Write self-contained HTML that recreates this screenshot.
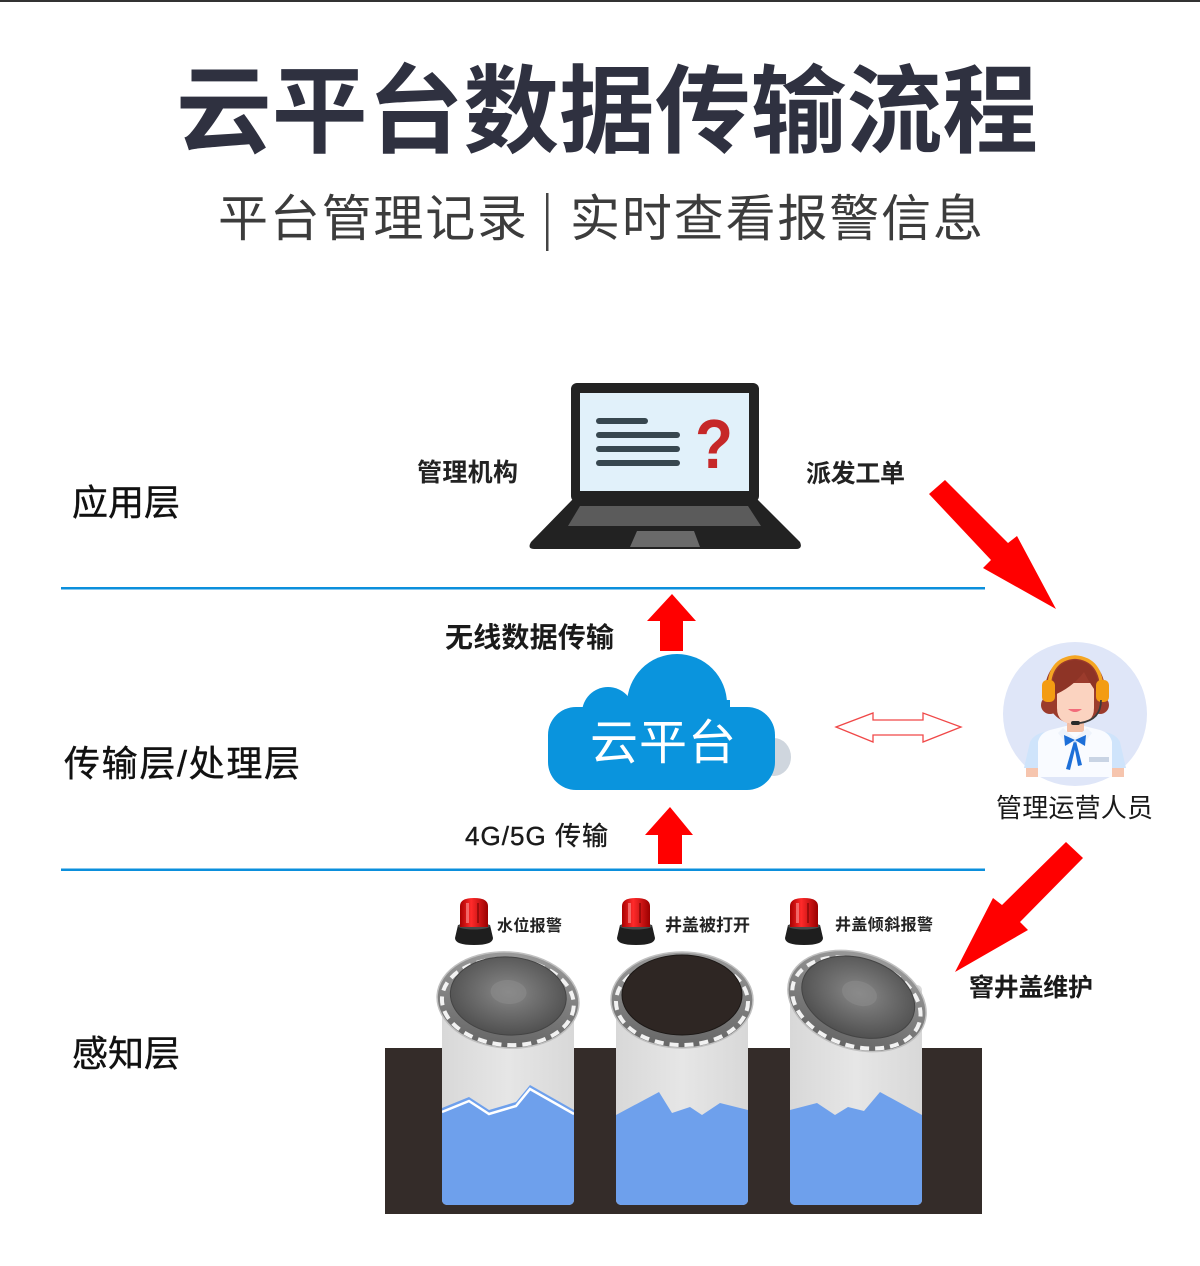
<!DOCTYPE html>
<html><head><meta charset="utf-8">
<style>
html,body{margin:0;padding:0;background:#fff;}
svg{display:block;}
text{font-family:"Liberation Sans","Noto Sans CJK SC",sans-serif;}
</style></head><body>
<svg width="1200" height="1266" viewBox="0 0 1200 1266" xmlns="http://www.w3.org/2000/svg">
<defs>
 <radialGradient id="disc" cx="50%" cy="45%" r="55%">
  <stop offset="0" stop-color="#8a8a8a"/>
  <stop offset="0.4" stop-color="#727272"/>
  <stop offset="1" stop-color="#505050"/>
 </radialGradient>
 <linearGradient id="ring" x1="0" y1="0" x2="0" y2="1">
  <stop offset="0" stop-color="#9a9a9a"/>
  <stop offset="1" stop-color="#666666"/>
 </linearGradient>
 <linearGradient id="cyl" x1="0" y1="0" x2="1" y2="0">
  <stop offset="0" stop-color="#d8d8d8"/>
  <stop offset="0.5" stop-color="#e6e6e6"/>
  <stop offset="1" stop-color="#d8d8d8"/>
 </linearGradient>
 <linearGradient id="dome" x1="0" y1="0" x2="1" y2="0">
  <stop offset="0" stop-color="#a80000"/>
  <stop offset="0.4" stop-color="#ff2a2a"/>
  <stop offset="1" stop-color="#9a0000"/>
 </linearGradient>
 <clipPath id="c1"><rect x="442" y="985" width="132" height="220" rx="5"/></clipPath>
 <clipPath id="c2"><rect x="616" y="985" width="132" height="220" rx="5"/></clipPath>
 <clipPath id="c3"><rect x="790" y="985" width="132" height="220" rx="5"/></clipPath>
 <clipPath id="avatar"><path d="M1003,714 A72,72 0 1 1 1147,714 A72,72 0 0 1 1130,760 L1130,777 L1020,777 L1020,760 A72,72 0 0 1 1003,714 Z"/></clipPath>
 <g id="alarm">
   <path d="M-16,-3 L16,-3 L19,10 Q19,17 0,17 Q-19,17 -19,10 Z" fill="#1e1e1e"/>
   <ellipse cx="0" cy="-2" rx="16" ry="3.5" fill="#4a4a4a"/>
   <path d="M-14,-1 L-14,-22 Q-14,-30 0,-30 Q14,-30 14,-22 L14,-1 Z" fill="url(#dome)"/>
   <rect x="-8" y="-25" width="3" height="20" fill="#ff9a9a" opacity="0.6"/>
   <rect x="3" y="-25" width="2" height="20" fill="#600" opacity="0.5"/>
 </g>
 <g id="cover">
   <ellipse cx="0" cy="0" rx="71" ry="48" fill="url(#ring)" stroke="#c0c0c0" stroke-width="1.5"/>
   <ellipse cx="0" cy="2" rx="66" ry="43" fill="none" stroke="#f2f2f2" stroke-width="4" stroke-dasharray="9 6"/>
 </g>
</defs>

<!-- top line -->
<rect x="0" y="0" width="1200" height="2" fill="#333"/>

<!-- title -->
<text x="607" y="145" font-size="96" font-weight="700" fill="#2f3140" text-anchor="middle" textLength="862" lengthAdjust="spacingAndGlyphs">云平台数据传输流程</text>
<text x="218" y="236" font-size="50" fill="#3c3c3c" textLength="309" lengthAdjust="spacing">平台管理记录</text>
<rect x="546" y="193" width="2.5" height="58" fill="#444"/>
<text x="570" y="236" font-size="50" fill="#3c3c3c" textLength="413" lengthAdjust="spacing">实时查看报警信息</text>

<!-- laptop -->
<rect x="571" y="383" width="188" height="119" rx="6" fill="#222"/>
<rect x="580" y="393" width="169" height="98" fill="#e1f1fa"/>
<path d="M573,499 L757,499 L800,542 Q803,549 796,549 L534,549 Q527,549 531,542 Z" fill="#222"/>
<path d="M580,506 L748,506 L761,526 L568,526 Z" fill="#5b5b5b"/>
<path d="M637,531 L694,531 L700,547 L630,547 Z" fill="#6a6a6a"/>
<g stroke="#37474f" stroke-width="6" stroke-linecap="round">
 <line x1="599" y1="421" x2="645" y2="421"/>
 <line x1="599" y1="435" x2="677" y2="435"/>
 <line x1="599" y1="449" x2="677" y2="449"/>
 <line x1="599" y1="463" x2="677" y2="463"/>
</g>
<text x="695" y="468" font-size="70" font-weight="700" fill="#c62828" textLength="38" lengthAdjust="spacingAndGlyphs">?</text>

<text x="417" y="481" font-size="25" font-weight="700" fill="#222" textLength="101" lengthAdjust="spacing">管理机构</text>
<text x="806" y="482" font-size="25" font-weight="700" fill="#222" textLength="99" lengthAdjust="spacing">派发工单</text>
<text x="72" y="515" font-size="36" fill="#111" stroke="#111" stroke-width="0.4" textLength="108" lengthAdjust="spacing">应用层</text>

<!-- layer lines -->
<rect x="61" y="587" width="924" height="2.5" fill="#0b8fdc"/>
<rect x="61" y="868.5" width="924" height="2.5" fill="#0b8fdc"/>

<!-- arrows up -->
<path d="M672,594 L696,621 L683,621 L683,651 L660,651 L660,621 L647,621 Z" fill="#ff0000"/>
<path d="M670,807 L693,835 L682,835 L682,864 L658,864 L658,835 L645,835 Z" fill="#ff0000"/>

<text x="445" y="647" font-size="28" fill="#1a1a1a" font-weight="700" textLength="169" lengthAdjust="spacing">无线数据传输</text>

<!-- cloud -->
<ellipse cx="774" cy="757" rx="17" ry="19" fill="#cfd6de"/>
<g fill="#0a94dd">
 <rect x="548" y="707" width="227" height="83" rx="28"/>
 <circle cx="608" cy="713" r="26"/>
 <circle cx="677" cy="704" r="50"/>
 <rect x="600" y="700" width="130" height="20"/>
</g>
<text x="590" y="759" font-size="48" fill="#ffffff" textLength="146" lengthAdjust="spacing">云平台</text>

<!-- double arrow -->
<path d="M836,727 L873,713 L873,720 L923,720 L923,713 L961,727 L923,742 L923,735 L873,735 L873,742 Z" fill="#fff" stroke="#f04848" stroke-width="1.3"/>

<text x="64" y="776" font-size="36" fill="#111" stroke="#111" stroke-width="0.4" textLength="236" lengthAdjust="spacing">传输层/处理层</text>
<text x="465" y="845" font-size="26" fill="#1a1a1a" stroke="#1a1a1a" stroke-width="0.4" textLength="143" lengthAdjust="spacing">4G/5G 传输</text>

<!-- diagonal arrows -->
<path d="M929,494 L945,480 L1008,543 L1017,536 L1056,609 L983,568 L991,560 Z" fill="#ff0000"/>
<path d="M1066,842 L1083,858 L1020,922 L1028,930 L955,972 L993,898 L1002,905 Z" fill="#ff0000"/>

<!-- person avatar -->
<circle cx="1075" cy="714" r="72" fill="#dfe6f8"/>
<g clip-path="url(#avatar)">
 <rect x="1026" y="762" width="14" height="20" fill="#f6c5ae"/>
 <rect x="1110" y="762" width="14" height="20" fill="#f6c5ae"/>
 <path d="M1024,768 L1030,742 Q1034,734 1045,732 L1045,768 Z" fill="#cfe4fb"/>
 <path d="M1126,768 L1120,742 Q1116,734 1105,732 L1105,768 Z" fill="#cfe4fb"/>
 <path d="M1038,778 L1038,742 Q1040,733 1050,730 L1066,726 L1084,726 L1100,730 Q1110,733 1112,742 L1112,778 Z" fill="#f9fbff"/>
 <rect x="1067" y="716" width="17" height="16" fill="#f3bfa6"/>
 <path d="M1063,728 L1075,738 L1068,746 L1058,733 Z" fill="#eef3fb"/>
 <path d="M1087,728 L1075,738 L1082,746 L1092,733 Z" fill="#eef3fb"/>
 <path d="M1075,740 L1064,735 L1065,746 Z" fill="#1d6fd8"/>
 <path d="M1075,740 L1086,735 L1085,746 Z" fill="#1d6fd8"/>
 <path d="M1074,741 L1066,769 L1070,770 L1076,745 Z" fill="#1d6fd8"/>
 <path d="M1076,741 L1082,765 L1078,766 L1074,745 Z" fill="#1d6fd8"/>
 <rect x="1089" y="757" width="20" height="5" fill="#c9d4e4"/>
 <ellipse cx="1075" cy="690" rx="30" ry="34" fill="#9b3b2c"/>
 <ellipse cx="1050" cy="705" rx="9" ry="9" fill="#9b3b2c"/>
 <ellipse cx="1100" cy="705" rx="9" ry="9" fill="#9b3b2c"/>
 <path d="M1057,683 L1094,683 L1094,708 Q1094,724 1075,724 Q1057,724 1057,708 Z" fill="#fbd3c0"/>
 <path d="M1052,696 Q1050,662 1075,660 Q1100,662 1099,696 Q1090,684 1084,672 Q1072,688 1052,696 Z" fill="#8e3426"/>
 <path d="M1068,709 Q1075,715 1082,709 Z" fill="#f26b7a"/>
 <path d="M1049,692 Q1048,659 1075,657 Q1102,659 1102,692" fill="none" stroke="#f5a623" stroke-width="3.5"/>
 <rect x="1042" y="680" width="13" height="22" rx="5" fill="#f39c12"/>
 <rect x="1096" y="680" width="13" height="22" rx="5" fill="#f39c12"/>
 <path d="M1101,700 Q1101,720 1080,723" fill="none" stroke="#3a3a3a" stroke-width="1.8"/>
 <rect x="1071" y="721" width="9" height="4" rx="2" fill="#2a2a2a"/>
</g>

<text x="996" y="817" font-size="26" fill="#1a1a1a" textLength="157" lengthAdjust="spacing">管理运营人员</text>
<text x="969" y="996" font-size="25" fill="#1a1a1a" font-weight="700" textLength="124" lengthAdjust="spacing">窨井盖维护</text>

<text x="72" y="1066" font-size="36" fill="#111" stroke="#111" stroke-width="0.4" textLength="108" lengthAdjust="spacing">感知层</text>

<!-- ground -->
<rect x="385" y="1048" width="597" height="166" fill="#342c29"/>

<!-- cylinders -->
<g clip-path="url(#c1)">
 <rect x="442" y="985" width="132" height="220" fill="url(#cyl)"/>
 <polygon points="442,1108 469,1097 489,1110 516,1102 530,1085 574,1110 574,1205 442,1205" fill="#6ea0ec"/>
 <polyline points="442,1112 469,1101 489,1114 516,1106 530,1089 574,1114" fill="none" stroke="#ffffff" stroke-width="2.5"/>
</g>
<g clip-path="url(#c2)">
 <rect x="616" y="985" width="132" height="220" fill="url(#cyl)"/>
 <polygon points="616,1115 659,1092 672,1113 690,1107 702,1115 720,1103 748,1110 748,1205 616,1205" fill="#6ea0ec"/>
</g>
<g clip-path="url(#c3)">
 <rect x="790" y="985" width="132" height="220" fill="url(#cyl)"/>
 <polygon points="790,1110 817,1103 835,1115 848,1107 864,1111 880,1092 922,1115 922,1205 790,1205" fill="#6ea0ec"/>
</g>

<!-- covers -->
<g transform="translate(508,1000) rotate(4)">
 <use href="#cover"/>
 <ellipse cx="0" cy="-4" rx="58" ry="39" fill="url(#disc)" stroke="#444" stroke-width="1"/>
 <ellipse cx="0" cy="-8" rx="18" ry="12" fill="#8a8a8a" opacity="0.6"/>
</g>
<g transform="translate(682,1000)">
 <use href="#cover"/>
 <ellipse cx="0" cy="-5" rx="60" ry="40" fill="#2e2623" stroke="#1c1816" stroke-width="1"/>
</g>
<g transform="translate(857,1001) rotate(18)">
 <use href="#cover"/>
 <ellipse cx="0" cy="-4" rx="58" ry="39" fill="url(#disc)" stroke="#444" stroke-width="1"/>
 <ellipse cx="0" cy="-8" rx="18" ry="12" fill="#8a8a8a" opacity="0.6"/>
</g>

<!-- alarms -->
<use href="#alarm" transform="translate(474,928)"/>
<use href="#alarm" transform="translate(636,928)"/>
<use href="#alarm" transform="translate(804,928)"/>

<text x="497" y="931" font-size="16" font-weight="700" fill="#222" textLength="65" lengthAdjust="spacing">水位报警</text>
<text x="665" y="931" font-size="17" fill="#222" font-weight="700" textLength="85" lengthAdjust="spacing">井盖被打开</text>
<text x="835" y="930" font-size="16" font-weight="700" fill="#222" textLength="98" lengthAdjust="spacing">井盖倾斜报警</text>
</svg>
</body></html>
